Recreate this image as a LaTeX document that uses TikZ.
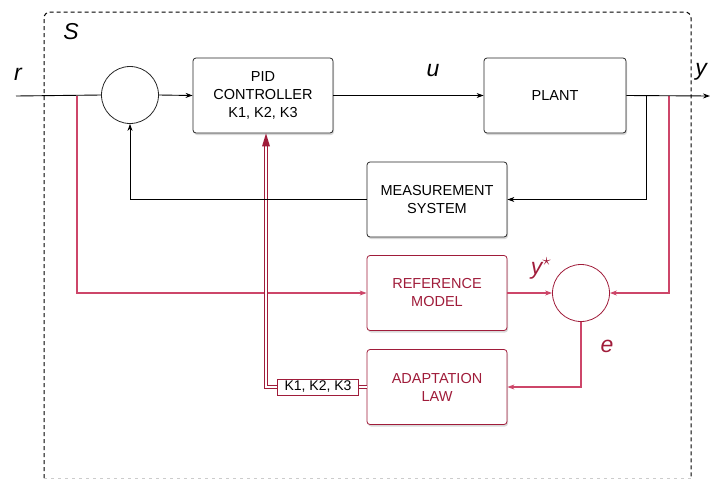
\documentclass[tikz,border=0pt]{standalone}
\usepackage{fontspec}
\setmainfont{Liberation Sans}
\usetikzlibrary{arrows.meta,shadows,calc}
\definecolor{mred}{RGB}{160,28,58}
\definecolor{linered}{RGB}{205,70,105}
\begin{document}
\begin{tikzpicture}[x=1pt,y=-1pt,
  blk/.style={draw=black!85, line width=0.8pt, rounded corners=3pt, fill=white,
     minimum width=140pt, minimum height=75pt, align=center,
     font=\fontsize{14.5}{18}\selectfont,
     drop shadow={opacity=0.3, shadow xshift=1pt, shadow yshift=-2pt}},
  rblk/.style={blk, draw=mred, text=mred},
  sumc/.style={circle, draw=black!85, line width=0.8pt, fill=white, minimum size=57pt, inner sep=0pt},
  rsumc/.style={sumc, draw=mred},
  sig/.style={line width=0.9pt, -{Stealth[length=7pt,width=5pt]}},
  rsig/.style={line width=1.05pt, linered, -{Stealth[length=7pt,width=5pt,fill=mred]}},
  dbl/.style={draw=mred, line width=0.8pt, double=white, double distance=2pt},
  lab/.style={font=\fontsize{23}{23}\selectfont\itshape},
]
\useasboundingbox (0,0) rectangle (710,488);
% system boundary
\draw[line width=1pt, dash pattern=on 4pt off 3pt, rounded corners=6pt]
  (44,478) -- (44,12) -- (691,12) -- (691,478);
\draw[line width=0.8pt, dash pattern=on 3pt off 4pt, black!20] (44,478) -- (691,478);
\node[lab] (S) at (71,32) {S};
\node[lab] (rl) at (18,74) {r};
\node[lab] (ul) at (433,71) {u};
\node[lab] (yl) at (701,72) {y};

% blocks
\node[sumc] (sum1) at (130,95) {};
\node[blk] (pid) at (263,95.5) {PID\\CONTROLLER\\K1, K2, K3};
\node[blk, minimum width=142pt] (plant) at (555,95.5) {PLANT};
\node[blk] (meas) at (437,199.5) {MEASUREMENT\\SYSTEM};
\node[rblk] (refm) at (437,293) {REFERENCE\\MODEL};
\node[rblk] (adapt) at (437,387) {ADAPTATION\\LAW};
\node[rsumc] (sum2) at (581,293) {};
\node[draw=mred, line width=0.8pt, fill=white, minimum width=81pt, minimum height=16pt, inner sep=0pt,
  font=\fontsize{14}{14}\selectfont] (kbox) at (318,387) {K1, K2, K3};
\node[lab, text=mred] (ystar) at (541,268) {y$^{\star}$};
\node[lab, text=mred] (el) at (607,346) {e};

\coordinate (rin) at (16,96);
\coordinate (yout) at (710,96);
\coordinate (rbr) at (77,96);
\coordinate (ybr1) at (646,96);
\coordinate (ybr2) at (669,96);

% red paths (under black)
\draw[rsig] (rbr) |- (refm.west);
\draw[rsig] (ybr2) |- (sum2.east);
\draw[rsig] (refm.east) -- (sum2.west);
\draw[rsig] (sum2.south) |- (adapt.east);
\draw[dbl] (adapt.west) -- (kbox.east);
\draw[dbl] (kbox.west) -| ($(pid.south)+(3,12)$);
\fill[mred] ($(pid.south)+(3,0)$) -- ($(pid.south)+(-1,13)$) -- ($(pid.south)+(7,13)$) -- cycle;

% black paths
\draw[line width=0.9pt] (rin) -- (sum1.west);
\draw[sig] (sum1.east) -- (pid.west);
\draw[sig] (pid.east) -- (plant.west);
\draw[sig] (plant.east) -- (yout);
\draw[sig] (ybr1) |- (meas.east);
\draw[sig] (meas.west) -| (sum1.south);
\end{tikzpicture}
\end{document}
